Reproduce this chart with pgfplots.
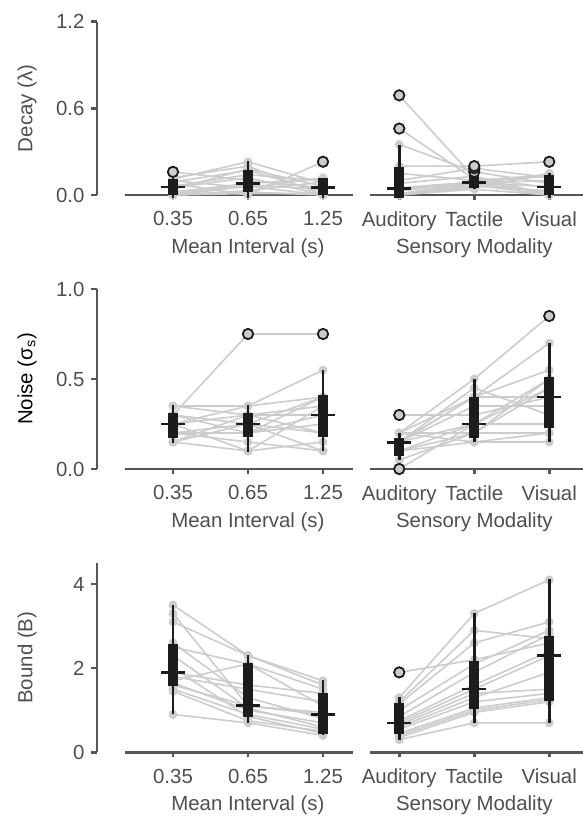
\documentclass[border=0pt]{standalone}
\usepackage{pgfplots}
\pgfplotsset{compat=1.18}
\usepackage{fontspec}
\setmainfont{Liberation Sans}
\definecolor{axgray}{HTML}{555555}
\definecolor{txtgray}{HTML}{4F4F4F}
\definecolor{subj}{HTML}{CCCCCC}
\definecolor{boxk}{HTML}{1C1C1C}

% one subject across the three conditions
\newcommand\subj[3]{\addplot[color=subj, line width=1.6bp, mark=*, mark size=3.6bp,
  mark options={fill=subj, draw=subj}] coordinates {(0,#1)(1,#2)(2,#3)};}
% box: x, lower whisker, q1, median, q3, upper whisker
\newcommand\bx[6]{%
  \addplot[boxk, line width=2.8bp] coordinates {(#1,#2)(#1,#6)};
  \addplot[boxk, line width=10bp] coordinates {(#1,#3)(#1,#5)};
  \addplot[boxk, only marks, mark=-, mark size=12bp, mark options={line width=2.5bp}] coordinates {(#1,#4)};}
\newcommand\outl[2]{\addplot[only marks, mark=*, mark size=5.2bp,
  mark options={fill=subj, draw=boxk, line width=1.8bp}] coordinates {(#1,#2)};}

\pgfplotsset{
  base/.style={scale only axis, clip=false, clip mode=individual, anchor=south west,
    font=\fontsize{20.5}{24}\selectfont,
    /pgf/number format/assume math mode=true,
    tick label style={text=txtgray, font=\fontsize{20.5}{24}\selectfont},
    axis line style={axgray, line width=2.8bp},
    tick style={axgray, line width=2.5bp}},
  yax/.style={base, width=1bp, xmin=0, xmax=1,
    axis y line*=left, axis x line=none, ytick align=outside, major tick length=6bp,
    yticklabel style={xshift=-3bp},
    every axis y label/.style={at={(axis description cs:-70,0.5)}, anchor=center, rotate=90}},
  panel/.style={base, axis x line*=bottom, axis y line=none, xtick={0,1,2},
    xtick align=outside, major tick length=5bp, xticklabel style={yshift=-8bp},
    ymin=0},
  leftp/.style={panel, width=228bp, xmin=-0.64, xmax=2.4,
    xticklabels={0.35,0.65,1.25}, xlabel={Mean Interval (s)},
    every axis x label/.style={at={(axis description cs:0.539,0)}, anchor=center, yshift=-53bp, text=txtgray}},
  rightp/.style={panel, width=213bp, xmin=-0.39, xmax=2.45,
    xticklabels={Auditory,Tactile,Visual}, xlabel={Sensory Modality},
    every axis x label/.style={at={(axis description cs:0.49,0)}, anchor=center, yshift=-53bp, text=txtgray}},
}

\begin{document}
\begin{tikzpicture}
\path[use as bounding box] (0,0) rectangle (583bp,817bp);

%% row 1: decay
\begin{axis}[yax, at={(97bp,622bp)}, height=173.3bp, ymin=0, ymax=1.2,
  ytick={0,0.6,1.2}, yticklabels={0.0,0.6,1.2}, ylabel={Decay (λ)}, ylabel style={text=txtgray}]
\end{axis}
\begin{axis}[leftp, at={(125bp,622bp)}, height=173.3bp, ymax=1.2]
  \subj{0.16}{0.10}{0.05} \subj{0.12}{0.20}{0.00} \subj{0.11}{0.23}{0.08}
  \subj{0.10}{0.05}{0.12} \subj{0.09}{0.17}{0.02} \subj{0.08}{0.00}{0.23}
  \subj{0.06}{0.14}{0.10} \subj{0.05}{0.12}{0.00} \subj{0.04}{0.18}{0.06}
  \subj{0.02}{0.08}{0.11} \subj{0.01}{0.07}{0.04} \subj{0.00}{0.03}{0.09}
  \subj{0.00}{0.06}{0.00} \subj{0.00}{0.01}{0.01} \subj{0.00}{0.02}{0.00}
  \bx{0}{-0.02}{0}{0.057}{0.11}{0.12}
  \bx{1}{-0.02}{0.023}{0.081}{0.173}{0.235}
  \bx{2}{-0.02}{0}{0.053}{0.115}{0.12}
  \outl{0}{0.16} \outl{2}{0.23}
\end{axis}
\begin{axis}[rightp, at={(370bp,622bp)}, height=173.3bp, ymax=1.2]
  \subj{0.69}{0.12}{0.05} \subj{0.46}{0.11}{0.00} \subj{0.35}{0.16}{0.08}
  \subj{0.20}{0.20}{0.23} \subj{0.15}{0.10}{0.14} \subj{0.10}{0.185}{0.12}
  \subj{0.08}{0.13}{0.00} \subj{0.05}{0.09}{0.13} \subj{0.04}{0.085}{0.10}
  \subj{0.03}{0.08}{0.02} \subj{0.01}{0.08}{0.06} \subj{0.00}{0.07}{0.00}
  \subj{0.00}{0.06}{0.03} \subj{0.00}{0.05}{0.15} \subj{0.00}{0.04}{0.00}
  \bx{0}{-0.02}{-0.02}{0.046}{0.196}{0.346}
  \bx{1}{0.04}{0.05}{0.085}{0.135}{0.14}
  \bx{2}{-0.02}{0}{0.057}{0.138}{0.15}
  \outl{0}{0.69} \outl{0}{0.46}
  \outl{1}{0.16} \outl{1}{0.185} \outl{1}{0.20}
  \outl{2}{0.23}
\end{axis}

%% row 2: noise
\begin{axis}[yax, at={(97bp,348bp)}, height=180bp, ymin=0, ymax=1.0,
  ytick={0,0.5,1.0}, yticklabels={0.0,0.5,1.0}, ylabel={Noise (σ\textsubscript{s})}, ylabel style={text=black}]
\end{axis}
\begin{axis}[leftp, at={(125bp,348bp)}, height=180bp, ymax=1.0]
  \subj{0.30}{0.75}{0.75} \subj{0.35}{0.35}{0.55} \subj{0.35}{0.30}{0.20}
  \subj{0.30}{0.25}{0.10} \subj{0.30}{0.20}{0.40} \subj{0.25}{0.35}{0.40}
  \subj{0.25}{0.10}{0.35} \subj{0.25}{0.30}{0.30} \subj{0.20}{0.25}{0.40}
  \subj{0.20}{0.20}{0.25} \subj{0.20}{0.15}{0.10} \subj{0.15}{0.30}{0.35}
  \subj{0.15}{0.25}{0.20} \subj{0.15}{0.10}{0.15} \subj{0.20}{0.20}{0.30}
  \bx{0}{0.145}{0.17}{0.25}{0.313}{0.355}
  \bx{1}{0.096}{0.175}{0.25}{0.31}{0.355}
  \bx{2}{0.1}{0.175}{0.30}{0.41}{0.55}
  \outl{1}{0.75} \outl{2}{0.75}
\end{axis}
\begin{axis}[rightp, at={(370bp,348bp)}, height=180bp, ymax=1.0]
  \subj{0.20}{0.50}{0.85} \subj{0.20}{0.40}{0.70} \subj{0.30}{0.30}{0.40}
  \subj{0.15}{0.40}{0.40} \subj{0.15}{0.40}{0.55} \subj{0.00}{0.25}{0.45}
  \subj{0.05}{0.20}{0.50} \subj{0.10}{0.25}{0.50} \subj{0.10}{0.20}{0.45}
  \subj{0.15}{0.35}{0.35} \subj{0.15}{0.25}{0.25} \subj{0.20}{0.20}{0.20}
  \subj{0.15}{0.45}{0.30} \subj{0.10}{0.15}{0.15} \subj{0.20}{0.15}{0.20}
  \bx{0}{0.05}{0.074}{0.148}{0.174}{0.2}
  \bx{1}{0.15}{0.174}{0.25}{0.40}{0.50}
  \bx{2}{0.15}{0.226}{0.40}{0.513}{0.70}
  \outl{0}{0.30} \outl{0}{0.0} \outl{2}{0.85}
\end{axis}

%% row 3: bound
\begin{axis}[yax, at={(97bp,64.7bp)}, height=189.3bp, ymin=0, ymax=4.5,
  ytick={0,2,4}, yticklabels={0,2,4}, ylabel={Bound (B)}, ylabel style={text=txtgray}]
\end{axis}
\begin{axis}[leftp, at={(125bp,64.7bp)}, height=189.3bp, ymax=4.5]
  \subj{3.5}{2.3}{1.7} \subj{3.3}{1.1}{0.9} \subj{3.1}{2.3}{1.6}
  \subj{2.6}{1.3}{0.8} \subj{2.5}{2.1}{1.5} \subj{2.3}{1.05}{0.6}
  \subj{2.0}{0.85}{0.45} \subj{1.9}{1.6}{1.4} \subj{1.8}{1.5}{1.2}
  \subj{1.7}{2.1}{1.1} \subj{1.65}{1.0}{0.7} \subj{1.6}{1.1}{0.95}
  \subj{1.5}{0.9}{0.55} \subj{1.45}{0.75}{0.5} \subj{0.9}{0.7}{0.4}
  \bx{0}{0.9}{1.58}{1.9}{2.57}{3.5}
  \bx{1}{0.69}{0.83}{1.11}{2.12}{2.32}
  \bx{2}{0.42}{0.44}{0.9}{1.42}{1.72}
\end{axis}
\begin{axis}[rightp, at={(370bp,64.7bp)}, height=189.3bp, ymax=4.5]
  \subj{1.3}{3.3}{4.1} \subj{1.9}{2.2}{2.6} \subj{1.2}{2.9}{2.7}
  \subj{1.15}{2.6}{3.1} \subj{1.0}{2.1}{2.9} \subj{0.85}{1.9}{2.8}
  \subj{0.75}{1.6}{2.4} \subj{0.7}{1.5}{2.3} \subj{0.65}{1.4}{1.5}
  \subj{0.6}{1.3}{1.9} \subj{0.55}{1.2}{1.4} \subj{0.45}{1.05}{1.3}
  \subj{0.4}{1.0}{1.25} \subj{0.35}{0.95}{1.2} \subj{0.3}{0.7}{0.7}
  \bx{0}{0.3}{0.43}{0.70}{1.17}{1.32}
  \bx{1}{0.7}{1.02}{1.51}{2.17}{3.32}
  \bx{2}{0.7}{1.23}{2.30}{2.77}{4.12}
  \outl{0}{1.9}
\end{axis}
\end{tikzpicture}
\end{document}
